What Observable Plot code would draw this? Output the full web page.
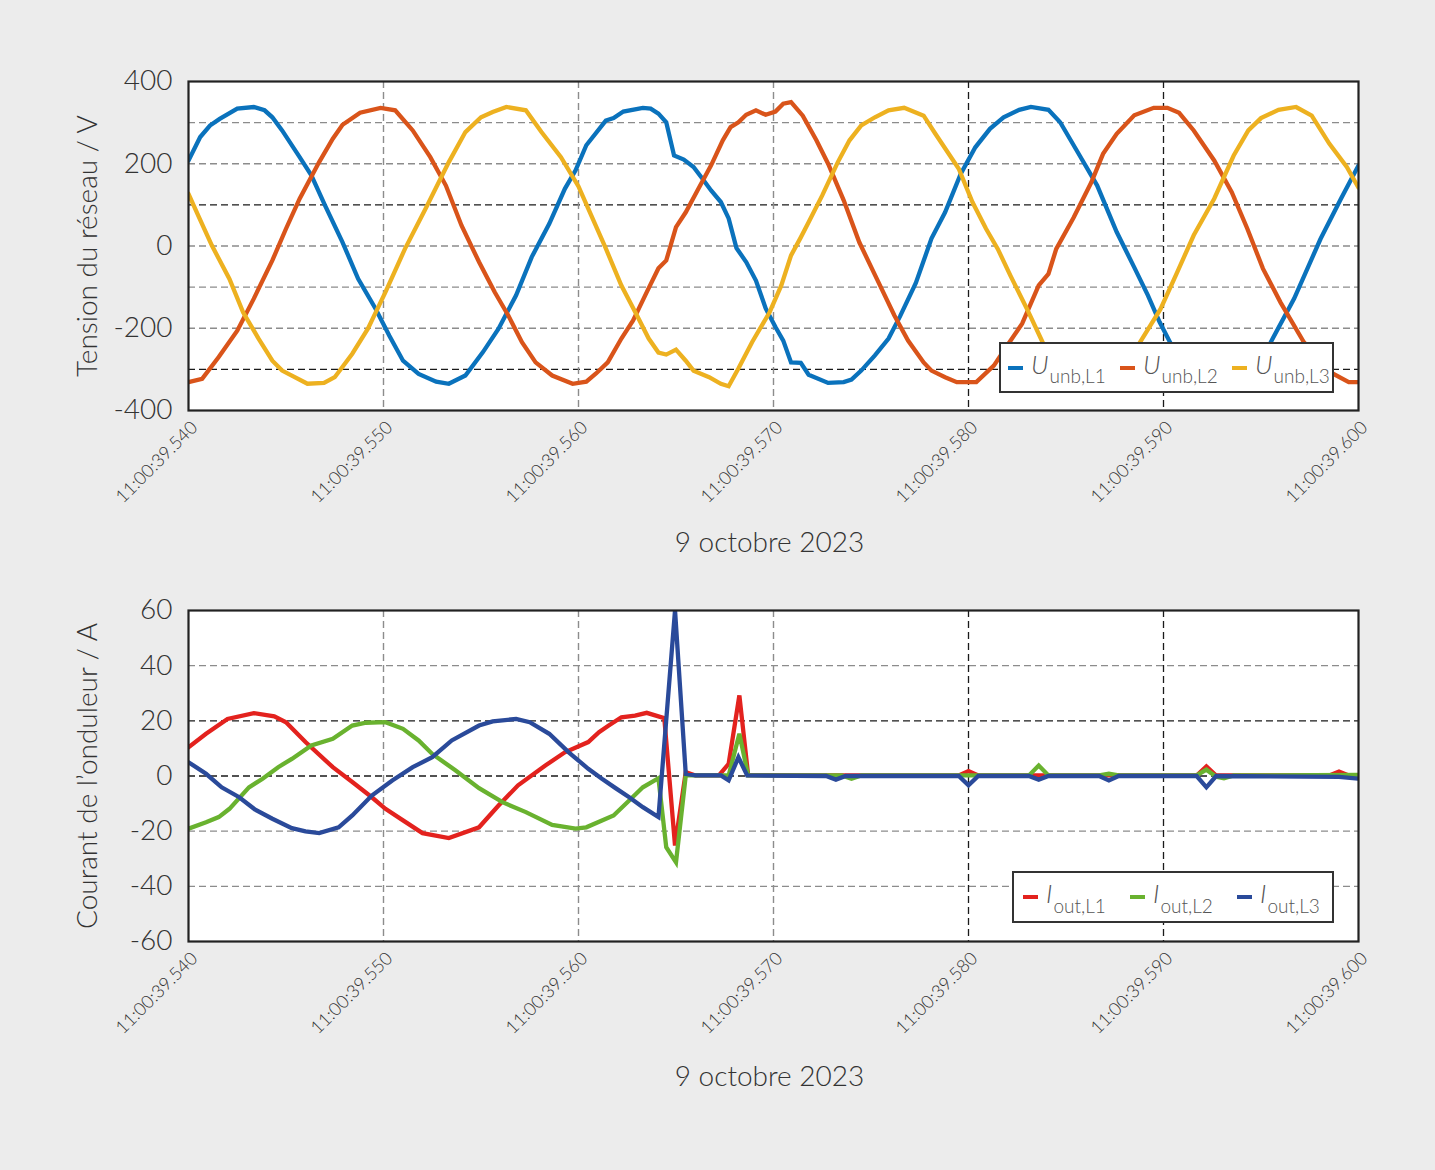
<!DOCTYPE html>
<html>
<head>
<meta charset="utf-8">
<script src="https://cdn.jsdelivr.net/npm/d3@7"></script>
<script src="https://cdn.jsdelivr.net/npm/@observablehq/plot@0.6"></script>
<style>
  html, body { margin: 0; padding: 0; background: #ececec; }
  #page { position: relative; width: 1435px; height: 1170px; background: #ececec; font-family: Lato, "Open Sans", sans-serif; font-weight: 300; color: #333; }
  #top, #bottom { position: absolute; left: 0; }
  #top { top: 0; }
  #bottom { top: 565px; }
  .legend { position: absolute; background: #fff; border: 2px solid #333; box-sizing: border-box; display: flex; align-items: center; color: #555; }
  .legend .item { display: flex; align-items: center; flex: none; }
  .legend .sw { display: inline-block; width: 15px; height: 4px; margin-right: 8px; }
  .legend .sym { font-style: italic; font-size: 26px; position: relative; top: -4px; }
  .legend .sub { font-size: 19px; position: relative; top: 8px; margin-left: 1px; }
</style>
</head>
<body>
<div id="page">
  <div id="top"></div>
  <div id="bottom"></div>
</div>
<script>
// ---------- tick labels / categories ----------
const xTicks = [0, 10, 20, 30, 40, 50, 60]; // ms after 11:00:39.540
const xTickLabels = ["11:00:39.540", "11:00:39.550", "11:00:39.560", "11:00:39.570", "11:00:39.580", "11:00:39.590", "11:00:39.600"];
const xTitle = "9 octobre 2023";
const yTicksTop = [400, 200, 0, -200, -400];
const yTickLabelsTop = ["400", "200", "0", "-200", "-400"];
const yTicksBottom = [60, 40, 20, 0, -20, -40, -60];
const yTickLabelsBottom = ["60", "40", "20", "0", "-20", "-40", "-60"];
const yTitleTop = "Tension du réseau / V";
const yTitleBottom = "Courant de l’onduleur / A";
const gridXGray = [10, 20, 30];
const gridXBlack = [40, 50];
const gridTopGray = [300, 200, 0, -100, -200];
const gridTopBlack = [100, -300];
const gridBottomGray = [40, -20, -40];
const gridBottomBlack = [20, 0];
const seriesTop = ["unb,L1", "unb,L2", "unb,L3"];
const seriesBottom = ["out,L1", "out,L2", "out,L3"];
const colorsTop = ["#0a72bc", "#d9541a", "#edb120"];
const colorsBottom = ["#e3221e", "#69b22f", "#2a4a9a"];

// ---------- Voltage U_unb,L1 ----------
const tU1 = [0,0.6,1.1,1.6,2.5,3.35,3.9,4.3,4.8,5.7,6.3,7.0,7.9,8.7,9.6,10.3,11.0,11.8,12.7,13.35,14.2,15.1,15.9,16.8,17.6,18.5,19.3,19.85,20.4,21.4,21.8,22.3,23.3,23.7,24.1,24.5,24.9,25.4,25.9,26.3,26.8,27.3,27.7,28.1,28.6,29.1,29.6,30.1,30.5,30.9,31.4,31.8,32.8,33.6,34.0,34.5,35.2,35.9,36.5,37.3,38.1,38.8,39.6,40.35,41.1,41.8,42.6,43.2,44.1,44.7,45.7,46.6,47.6,48.5,49.2,49.8,50.4,51.1,51.9,52.7,53.4,54.1,54.8,55.5,56.7,58.05,59.1,60];
const vU1 = [208,265,293,309,334,338,330,313,281,216,172,99,9,-80,-153,-218,-279,-311,-330,-335,-315,-258,-201,-120,-27,54,139,184,245,305,311,327,336,334,322,301,220,210,192,167,135,107,67,-5,-39,-84,-152,-197,-230,-283,-284,-313,-333,-331,-325,-303,-266,-225,-170,-90,18,82,175,240,285,313,331,338,331,301,220,147,34,-52,-120,-185,-240,-285,-318,-333,-335,-322,-290,-234,-128,17,115,196];

// ---------- Voltage U_unb,L2 ----------
const tU2 = [0,0.7,1.55,2.5,3.35,4.3,5.0,5.7,6.7,7.4,7.9,8.8,9.85,10.6,11.5,12.4,13.2,14.0,14.9,15.7,16.4,17.1,17.8,18.65,19.7,20.4,20.9,21.5,22.2,22.8,23.5,24.1,24.5,25.0,25.5,26.1,26.8,27.4,27.8,28.2,28.6,29.1,29.6,30.1,30.5,30.9,31.5,32.2,32.8,33.6,34.4,35.3,36.2,36.9,37.7,38.1,38.8,39.4,40.4,41.3,42.1,42.75,43.6,44.1,44.5,45.4,46.3,46.9,47.6,48.5,49.5,50.2,50.8,51.55,52.6,53.5,54.3,55.1,56.0,57.2,58.6,59.5,60];
const vU2 = [-331,-323,-270,-206,-128,-35,42,115,204,261,295,324,336,330,281,216,147,50,-39,-112,-169,-234,-283,-315,-335,-330,-310,-283,-225,-181,-112,-54,-35,46,82,135,196,257,289,301,319,330,319,327,346,350,317,257,200,111,9,-80,-169,-230,-283,-303,-319,-331,-331,-291,-234,-189,-96,-68,-7,70,155,224,273,318,336,336,324,281,208,131,42,-55,-137,-234,-308,-331,-331];

// ---------- Voltage U_unb,L3 ----------
const tU3 = [0,0.5,1.2,2.1,2.8,3.6,4.3,4.8,6.1,6.95,7.5,8.4,9.2,10.1,11.1,12.15,13.35,14.2,15.0,15.6,16.3,17.3,18.1,19.1,20.0,20.5,21.4,22.2,23.0,23.6,24.1,24.5,25.0,25.5,25.9,26.7,27.3,27.7,28.2,28.9,29.8,30.4,30.9,31.4,31.8,32.5,33.3,33.9,34.5,35.2,35.9,36.7,37.7,38.3,39.5,40.2,40.9,41.5,42.15,43.0,43.8,44.5,45.2,46.0,46.7,47.4,48.1,48.8,49.85,50.7,51.55,52.6,53.6,54.35,55.0,55.9,56.8,57.6,58.5,59.4,60];
const vU3 = [127,74,1,-80,-161,-226,-279,-303,-335,-333,-319,-262,-201,-112,-7,90,204,277,313,326,338,330,277,216,145,91,-6,-96,-169,-225,-259,-264,-252,-279,-303,-319,-335,-341,-298,-234,-161,-96,-23,21,58,123,204,257,293,313,330,336,317,273,188,107,42,-7,-72,-153,-234,-275,-312,-333,-335,-322,-288,-234,-153,-64,26,115,220,281,311,331,338,317,249,192,142];

// ---------- Current I_out,L1 ----------
const tI1 = [0,0.9,2.0,3.35,4.4,5.0,6.0,7.4,8.4,9.4,10.1,11.0,12.0,13.35,14.9,15.9,16.9,18.3,19.3,20.5,21.05,21.55,22.2,22.9,23.5,24.4,24.95,25.5,26.0,27.2,27.7,28.25,28.7,33.0,39.5,40.0,40.5,51.7,52.2,52.7,58.5,59.0,59.5,60];
const vI1 = [10.4,15.3,20.7,22.8,21.6,19.5,12.3,3.2,-2.2,-7.7,-11.9,-16.1,-20.7,-22.5,-18.6,-10.7,-3.4,3.8,8.6,12.3,15.9,18.3,21.3,21.9,22.9,21.0,-25.2,1.4,0.2,0.2,4.4,29.2,0.3,0.2,0.2,1.8,0.2,0.2,3.5,0.2,0.2,1.6,0.2,0];

// ---------- Current I_out,L2 ----------
const tI2 = [0,0.9,1.55,2.1,3.1,3.8,4.6,5.3,6.3,7.4,8.4,9.1,10.1,11.0,11.8,12.5,13.7,14.9,16.1,17.3,18.65,19.85,20.4,21.8,22.6,23.3,24.1,24.5,25.0,25.5,27.7,28.25,28.7,33.5,34.0,34.5,43.1,43.6,44.1,46.7,47.2,47.7,51.7,52.2,52.7,53.1,53.6,60];
const vI2 = [-19.1,-16.8,-14.9,-11.9,-4.1,-1.0,3.2,6.2,11.1,13.5,18.3,19.3,19.5,17.1,12.9,8.0,2.0,-4.4,-9.5,-13.1,-17.7,-19.1,-18.6,-14.3,-8.9,-4.1,-0.8,-25.8,-31.3,0.2,0.2,15.3,0.2,0.2,-1.0,0.2,0.2,3.8,0.2,0.2,0.8,0.2,0.2,2.3,-0.3,-0.8,0.2,0.4];

// ---------- Current I_out,L3 ----------
const tI3 = [0,0.9,1.7,2.6,3.4,4.3,5.3,6.0,6.7,7.7,8.4,9.4,10.45,11.5,12.5,13.5,14.9,15.6,16.8,17.5,18.5,19.5,20.5,21.2,21.9,22.6,23.3,24.1,24.95,25.5,26.0,27.3,27.7,28.2,28.65,32.7,33.2,33.7,39.5,40.0,40.5,43.1,43.6,44.1,46.7,47.2,47.7,51.7,52.2,52.7,59.0,60];
const vI3 = [5.0,0.8,-4.1,-7.7,-12.1,-15.5,-18.9,-20.1,-20.7,-18.6,-14.3,-7.1,-1.6,3.2,6.8,12.9,18.3,19.8,20.7,19.5,15.3,8.6,2.6,-1.0,-4.4,-7.7,-11.3,-14.9,60,0.8,0.2,0.2,-1.6,6.8,0.2,0,-1.3,0,0,-3.4,0,0,-1.3,0,0,-1.6,0,0,-4.1,0,-0.3,-1.0];

// ---------- build tables ----------
const zip = (ts, vs) => ts.map((t, i) => ({t, v: vs[i]}));
const topSeries = [zip(tU1, vU1), zip(tU2, vU2), zip(tU3, vU3)];
const bottomSeries = [zip(tI1, vI1), zip(tI2, vI2), zip(tI3, vI3)];

const FONT = "Lato, 'Open Sans', sans-serif";

function panel({height, marginTop, marginBottom, yDomain, yTicks, yLabels, grayY, blackY, series, colors, yTitle, titleDy}) {
  const lab = (ticks, labels) => d => labels[ticks.indexOf(d)];
  return Plot.plot({
    width: 1435,
    height,
    marginTop,
    marginBottom,
    marginLeft: 188,
    marginRight: 77,
    style: {background: "transparent", fontFamily: FONT, fontWeight: 300, color: "#333", overflow: "visible"},
    x: {domain: [0, 60], ticks: xTicks},
    y: {domain: yDomain, ticks: yTicks},
    marks: [
      Plot.frame({fill: "white"}),
      Plot.ruleY(grayY, {stroke: "#8c8c8c", strokeWidth: 1.4, strokeDasharray: "7,4"}),
      Plot.ruleY(blackY, {stroke: "#1a1a1a", strokeWidth: 1.3, strokeDasharray: "7,4"}),
      Plot.ruleX(gridXGray, {stroke: "#8c8c8c", strokeWidth: 1.4, strokeDasharray: "7,4"}),
      Plot.ruleX(gridXBlack, {stroke: "#1a1a1a", strokeWidth: 1.3, strokeDasharray: "7,4"}),
      ...series.map((s, i) => Plot.line(s, {x: "t", y: "v", stroke: colors[i], strokeWidth: 4.3, strokeLinejoin: "miter", strokeMiterlimit: 4, clip: true})),
      Plot.frame({stroke: "#222", strokeWidth: 2.2}),
      Plot.axisX({ticks: xTicks, tickFormat: lab(xTicks, xTickLabels), tickRotate: -45, tickSize: 0, tickPadding: 14, dx: 6, fontSize: 18, label: null, fill: "#333"}),
      Plot.axisY({ticks: yTicks, tickFormat: lab(yTicks, yLabels), tickSize: 0, tickPadding: 16, fontSize: 28, label: null, fill: "#333"}),
      Plot.text([xTitle], {frameAnchor: "bottom", dx: -4, dy: titleDy, fontSize: 28, fill: "#333"}),
      Plot.text([yTitle], {frameAnchor: "left", textAnchor: "middle", dx: -100, rotate: -90, fontSize: 28, fill: "#333"})
    ]
  });
}

document.getElementById("top").appendChild(panel({
  height: 565, marginTop: 81, marginBottom: 155,
  yDomain: [-400, 400], yTicks: yTicksTop, yLabels: yTickLabelsTop,
  grayY: gridTopGray, blackY: gridTopBlack,
  series: topSeries, colors: colorsTop, yTitle: yTitleTop, titleDy: 141
}));

document.getElementById("bottom").appendChild(panel({
  height: 605, marginTop: 45, marginBottom: 229,
  yDomain: [-60, 60], yTicks: yTicksBottom, yLabels: yTickLabelsBottom,
  grayY: gridBottomGray, blackY: gridBottomBlack,
  series: bottomSeries, colors: colorsBottom, yTitle: yTitleBottom, titleDy: 144
}));

// ---------- legends ----------
function legend(sym, subs, colors, left, top, width, height, pad, itemW) {
  const box = document.createElement("div");
  box.className = "legend";
  Object.assign(box.style, {left: left + "px", top: top + "px", width: width + "px", height: height + "px", paddingLeft: pad + "px"});
  subs.forEach((s, i) => {
    const it = document.createElement("div");
    it.className = "item";
    it.style.width = itemW + "px";
    it.innerHTML = `<span class="sw" style="background:${colors[i]}"></span><span class="sym">${sym}</span><span class="sub">${s}</span>`;
    box.appendChild(it);
  });
  document.getElementById("page").appendChild(box);
}
legend("U", seriesTop, colorsTop, 999, 342, 335, 51, 7, 112);
legend("I", seriesBottom, colorsBottom, 1012, 871, 322, 52, 9, 107);
</script>
</body>
</html>
